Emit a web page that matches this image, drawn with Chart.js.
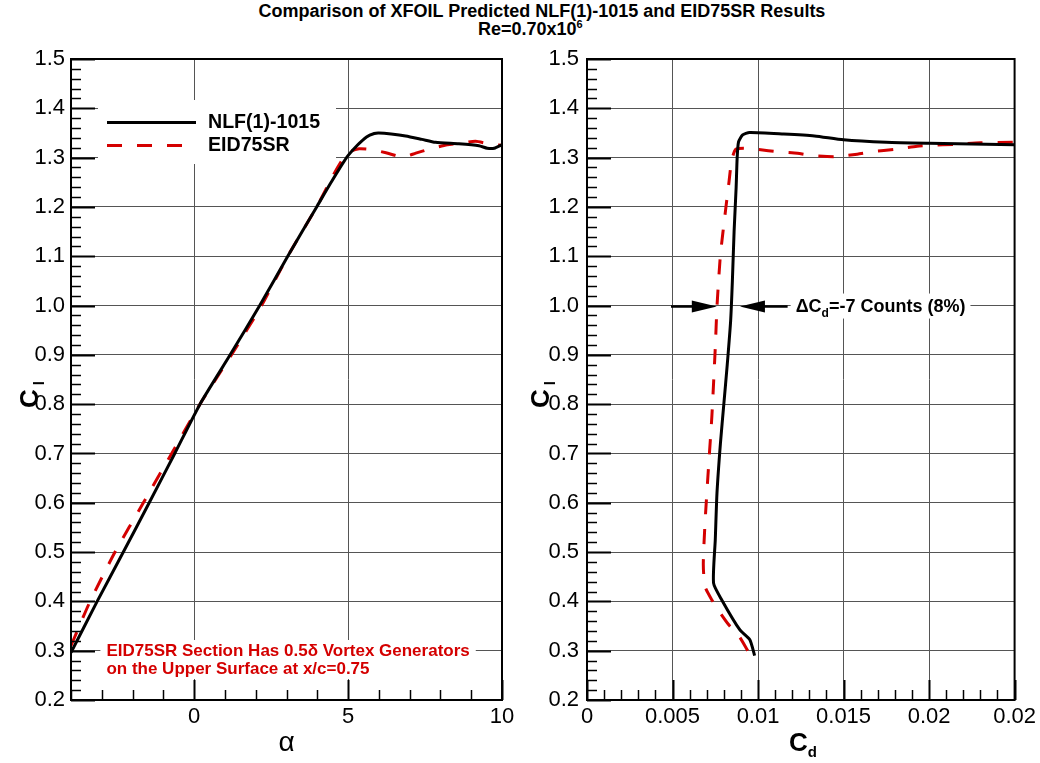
<!DOCTYPE html>
<html>
<head>
<meta charset="utf-8">
<script src="https://cdn.jsdelivr.net/npm/chart.js@4.4.1/dist/chart.umd.min.js"></script>
<style>
html,body{margin:0;padding:0;background:#fff;}
body{width:1040px;height:763px;position:relative;overflow:hidden;font-family:"Liberation Sans",Arial,Helvetica,sans-serif;color:#000;}
canvas{position:absolute;top:0;}
#cLeft{left:0;}
#cRight{left:505px;}
.t1{position:absolute;left:242px;width:600px;top:2px;text-align:center;font-weight:bold;font-size:18px;line-height:18px;white-space:nowrap;}
.t2{position:absolute;left:478px;top:20px;font-weight:bold;font-size:18px;line-height:18px;white-space:nowrap;}
.t2 sup{font-size:11px;vertical-align:7px;line-height:0;}
.ylab{position:absolute;font-weight:bold;font-size:26px;line-height:26px;white-space:nowrap;transform-origin:0 0;transform:rotate(-90deg);}
.ylab sub{font-size:15px;vertical-align:-6px;line-height:0;margin-left:4px;}
.xlab sub{font-size:15px;vertical-align:-6px;line-height:0;}
.xlab{position:absolute;font-weight:bold;font-size:26px;line-height:26px;white-space:nowrap;}
</style>
</head>
<body>
<div class="t1">Comparison of XFOIL Predicted NLF(1)-1015 and EID75SR Results</div>
<div class="t2">Re=0.70x10<sup>6</sup></div>
<canvas id="cLeft" width="540" height="763"></canvas>
<canvas id="cRight" width="535" height="763"></canvas>
<div class="ylab" id="ylabL" style="left:16px;top:408px;">C<sub>l</sub></div>
<div class="ylab" id="ylabR" style="left:527px;top:408px;">C<sub>l</sub></div>
<div class="xlab" id="xlabR" style="left:789px;top:729px;">C<sub>d</sub></div>
<script>
// ---------------- data ----------------
// Left panel: lift coefficient vs angle of attack
const nlfAlpha = [-4.0, -3.15, -2.30, -1.46, -0.63, 0.19, 1.17, 2.13, 3.04, 3.98, 4.45, 4.95, 5.30, 5.60, 5.85, 6.00, 6.40, 6.87, 7.40, 7.84, 8.60, 9.25, 9.52, 9.75, 10.0];
const nlfClA   = [0.296, 0.40, 0.50, 0.60, 0.70, 0.80, 0.90, 1.00, 1.10, 1.20, 1.25, 1.300, 1.325, 1.342, 1.349, 1.350, 1.348, 1.344, 1.337, 1.331, 1.328, 1.324, 1.319, 1.319, 1.326];
const eidAlpha = [-4.0, -3.38, -2.57, -1.65, -0.73, 0.19, 1.21, 2.19, 3.04, 3.98, 4.55, 4.85, 5.10, 5.36, 5.68, 6.23, 6.77, 7.20, 7.63, 8.22, 8.65, 9.14, 9.63, 10.0];
const eidClA   = [0.31, 0.40, 0.50, 0.60, 0.70, 0.80, 0.90, 1.00, 1.10, 1.20, 1.268, 1.299, 1.313, 1.318, 1.317, 1.310, 1.301, 1.309, 1.317, 1.326, 1.329, 1.333, 1.327, 1.325];

// Right panel: lift coefficient vs drag coefficient
const nlfCd  = [0.0098, 0.00952, 0.00894, 0.00788, 0.0074, 0.0075, 0.0076, 0.0078, 0.0080, 0.0082, 0.0084, 0.0085, 0.0086, 0.00872, 0.00878, 0.00886, 0.0091, 0.0095, 0.0115, 0.0133, 0.0150, 0.0175, 0.0200, 0.0250];
const nlfClD = [0.29, 0.322, 0.342, 0.403, 0.437, 0.525, 0.62, 0.72, 0.80, 0.88, 0.97, 1.05, 1.15, 1.24, 1.30, 1.332, 1.346, 1.351, 1.348, 1.344, 1.336, 1.331, 1.329, 1.326];
const eidCd  = [0.0094, 0.0089, 0.0083, 0.0078, 0.0073, 0.0069, 0.0068, 0.0069, 0.0071, 0.0073, 0.0075, 0.0076, 0.0078, 0.0081, 0.0083, 0.00846, 0.0087, 0.0093, 0.0106, 0.0115, 0.0123, 0.0132, 0.0145, 0.0158, 0.0167, 0.0180, 0.0193, 0.0201, 0.0215, 0.0230, 0.0250];
const eidClD = [0.300, 0.329, 0.352, 0.376, 0.403, 0.430, 0.475, 0.559, 0.670, 0.775, 0.914, 0.998, 1.102, 1.193, 1.250, 1.295, 1.317, 1.319, 1.314, 1.311, 1.309, 1.304, 1.302, 1.307, 1.312, 1.317, 1.323, 1.325, 1.327, 1.330, 1.331];

// Series names
const seriesNames = ['NLF(1)-1015', 'EID75SR'];

// Axes and tick labels
const clTickValues = [0.2, 0.3, 0.4, 0.5, 0.6, 0.7, 0.8, 0.9, 1.0, 1.1, 1.2, 1.3, 1.4, 1.5];
const clTickLabels = ['0.2', '0.3', '0.4', '0.5', '0.6', '0.7', '0.8', '0.9', '1.0', '1.1', '1.2', '1.3', '1.4', '1.5'];
const alphaTickValues = [0, 5, 10];
const alphaTickLabels = ['0', '5', '10'];
const cdTickValues = [0, 0.005, 0.01, 0.015, 0.02, 0.025];
const cdTickLabels = ['0', '0.005', '0.01', '0.015', '0.02', '0.02'];

// Annotation texts and positions (data units)
const noteLines = ['EID75SR Section Has 0.5\u03b4 Vortex Generators', 'on the Upper Surface at x/c=0.75'];
const noteAlpha = -2.85;
const deltaLevelCl = 1.0;
const deltaArrowLeft = [0.00491, 0.00759];   // tail, tip
const deltaArrowRight = [0.01173, 0.00894];  // tail, tip
const deltaTextCd = 0.0122;
const deltaText = ['\u0394C', 'd', '=-7 Counts (8%)'];

// ---------------- styling ----------------
const FONT = '"Liberation Sans", Arial, Helvetica, sans-serif';
const BLACK = '#000000';
const RED = '#d40000';
const GRID = '#555555';
const DASH = [15, 15];

function findLabel(values, labels, v) {
  for (let i = 0; i < values.length; i++) if (Math.abs(values[i] - v) < 1e-9) return labels[i];
  return null;
}
function pts(xs, ys) { return xs.map((x, i) => ({ x: x, y: ys[i] })); }

function makeDecor(xValues, yValues) {
  return {
    id: 'decor',
    afterDraw(chart) {
      const { ctx, chartArea: a } = chart;
      const xs = chart.scales.x, ys = chart.scales.y;
      ctx.save();
      ctx.strokeStyle = BLACK;
      xs.ticks.forEach(t => {
        const major = findLabel(xValues, xValues, t.value) !== null;
        const px = Math.round(xs.getPixelForValue(t.value)) + 0.5;
        ctx.lineWidth = major ? 2 : 1.5;
        ctx.beginPath();
        ctx.moveTo(px, a.bottom);
        ctx.lineTo(px, a.bottom - (major ? 20 : 10));
        ctx.stroke();
      });
      ys.ticks.forEach(t => {
        const major = findLabel(yValues, yValues, t.value) !== null;
        const py = Math.round(ys.getPixelForValue(t.value)) + 0.5;
        ctx.lineWidth = major ? 2 : 1.5;
        ctx.beginPath();
        ctx.moveTo(a.left, py);
        ctx.lineTo(a.left + (major ? 24 : 10), py);
        ctx.stroke();
      });
      ctx.lineWidth = 2;
      ctx.strokeRect(a.left, a.top, a.right - a.left, a.bottom - a.top);
      ctx.restore();
    }
  };
}

function scaleX(min, max, step, values, labels, title) {
  return {
    type: 'linear', min: min, max: max, position: 'bottom',
    afterFit(s) { s.height = 63; },
    border: { display: false },
    grid: {
      drawTicks: false,
      lineWidth: 1,
      color: c => (c.tick && findLabel(values, labels, c.tick.value) !== null) ? GRID : 'rgba(0,0,0,0)'
    },
    ticks: {
      stepSize: step, autoSkip: false, maxRotation: 0, minRotation: 0, padding: 4,
      color: BLACK, font: { family: FONT, size: 22 },
      callback: v => { const l = findLabel(values, labels, v); return l === null ? '' : l; }
    },
    title: title
  };
}
function scaleY(yAxisWidth, pad) {
  return {
    type: 'linear', min: 0.2, max: 1.5, position: 'left',
    afterFit(s) { s.width = yAxisWidth; },
    border: { display: false },
    grid: {
      drawTicks: false,
      lineWidth: 1,
      color: c => (c.tick && findLabel(clTickValues, clTickLabels, c.tick.value) !== null) ? GRID : 'rgba(0,0,0,0)'
    },
    ticks: {
      stepSize: 0.02, autoSkip: false, padding: pad,
      color: BLACK, font: { family: FONT, size: 22 },
      callback: v => { const l = findLabel(clTickValues, clTickLabels, v); return l === null ? '' : l; }
    }
  };
}
function series(data, i) {
  return {
    label: seriesNames[i], data: data, showLine: true, pointRadius: 0, pointHoverRadius: 0,
    borderColor: i === 0 ? BLACK : RED, backgroundColor: i === 0 ? BLACK : RED,
    borderWidth: 3, borderDash: i === 0 ? [] : DASH, tension: 0.2, fill: false
  };
}

// Left-panel legend and red note
const leftNotes = {
  id: 'leftNotes',
  beforeDatasetsDraw(chart) {
    const { ctx } = chart;
    const xs = chart.scales.x;
    ctx.save();
    // legend
    ctx.fillStyle = '#fff';
    ctx.fillRect(98, 100, 238, 64);
    const ds = chart.data.datasets;
    ctx.lineWidth = 3;
    ctx.strokeStyle = ds[0].borderColor; ctx.setLineDash([]);
    ctx.beginPath(); ctx.moveTo(107, 122.5); ctx.lineTo(196, 122.5); ctx.stroke();
    ctx.strokeStyle = ds[1].borderColor; ctx.setLineDash(DASH);
    ctx.beginPath(); ctx.moveTo(107, 145.5); ctx.lineTo(196, 145.5); ctx.stroke();
    ctx.setLineDash([]);
    ctx.fillStyle = BLACK;
    ctx.font = 'bold 19.6px ' + FONT;
    ctx.textBaseline = 'middle'; ctx.textAlign = 'left';
    ctx.fillText(ds[0].label, 208, 123);
    ctx.fillText(ds[1].label, 208, 146);
    // note
    ctx.font = 'bold 17px ' + FONT;
    const w = Math.max(ctx.measureText(noteLines[0]).width, ctx.measureText(noteLines[1]).width);
    const x0 = xs.getPixelForValue(noteAlpha);
    ctx.fillStyle = '#fff';
    ctx.fillRect(x0 - 6, 640, w + 12, 39);
    ctx.fillStyle = RED;
    ctx.fillText(noteLines[0], x0, 651);
    ctx.fillText(noteLines[1], x0, 669);
    ctx.restore();
  }
};

// Right-panel delta-Cd annotation
function arrow(ctx, xTail, xTip, y) {
  const dir = xTip > xTail ? 1 : -1;
  const headLen = 25, half = 6;
  ctx.lineWidth = 2.5;
  ctx.beginPath(); ctx.moveTo(xTail, y); ctx.lineTo(xTip - dir * (headLen - 4), y); ctx.stroke();
  ctx.beginPath();
  ctx.moveTo(xTip, y);
  ctx.lineTo(xTip - dir * headLen, y - half);
  ctx.lineTo(xTip - dir * headLen, y + half);
  ctx.closePath(); ctx.fill();
}
const rightNotes = {
  id: 'rightNotes',
  beforeDatasetsDraw(chart) {
    const { ctx } = chart;
    const xs = chart.scales.x, ys = chart.scales.y;
    const y = ys.getPixelForValue(deltaLevelCl);
    const x = xs.getPixelForValue(deltaTextCd);
    ctx.save();
    ctx.font = 'bold 18px ' + FONT;
    const w1 = ctx.measureText(deltaText[0]).width;
    ctx.font = 'bold 12px ' + FONT;
    const w2 = ctx.measureText(deltaText[1]).width;
    ctx.font = 'bold 18px ' + FONT;
    const w3 = ctx.measureText(deltaText[2]).width;
    ctx.fillStyle = '#fff';
    ctx.fillRect(x - 5, y - 12, w1 + w2 + w3 + 10, 25);
    ctx.fillStyle = BLACK;
    ctx.textBaseline = 'alphabetic'; ctx.textAlign = 'left';
    ctx.fillText(deltaText[0], x, y + 6.5);
    ctx.font = 'bold 12px ' + FONT;
    ctx.fillText(deltaText[1], x + w1, y + 11);
    ctx.font = 'bold 18px ' + FONT;
    ctx.fillText(deltaText[2], x + w1 + w2, y + 6.5);
    ctx.restore();
  },
  afterDatasetsDraw(chart) {
    const { ctx } = chart;
    const xs = chart.scales.x, ys = chart.scales.y;
    const y = Math.round(ys.getPixelForValue(deltaLevelCl)) + 0.5;
    ctx.save();
    ctx.strokeStyle = BLACK; ctx.fillStyle = BLACK;
    arrow(ctx, xs.getPixelForValue(deltaArrowLeft[0]), xs.getPixelForValue(deltaArrowLeft[1]), y);
    arrow(ctx, xs.getPixelForValue(deltaArrowRight[0]), xs.getPixelForValue(deltaArrowRight[1]), y);
    ctx.restore();
  }
};

Chart.defaults.font.family = FONT;

new Chart(document.getElementById('cLeft'), {
  type: 'scatter',
  data: { datasets: [series(pts(nlfAlpha, nlfClA), 0), series(pts(eidAlpha, eidClA), 1)] },
  options: {
    responsive: false, devicePixelRatio: 1, animation: false,
    layout: { padding: { top: 59, right: 38, bottom: 0, left: 0 } },
    plugins: { legend: { display: false }, tooltip: { enabled: false }, title: { display: false } },
    scales: {
      x: scaleX(-4, 10, 1, alphaTickValues, alphaTickLabels,
        { display: true, text: '\u03b1', color: BLACK, font: { family: FONT, size: 28 }, padding: { top: 0, bottom: 3 } }),
      y: scaleY(71, 6)
    }
  },
  plugins: [leftNotes, makeDecor(alphaTickValues, clTickValues)]
});

new Chart(document.getElementById('cRight'), {
  type: 'scatter',
  data: { datasets: [series(pts(nlfCd, nlfClD), 0), series(pts(eidCd, eidClD), 1)] },
  options: {
    responsive: false, devicePixelRatio: 1, animation: false,
    layout: { padding: { top: 59, right: 20.5, bottom: 0, left: 0 } },
    plugins: { legend: { display: false }, tooltip: { enabled: false }, title: { display: false } },
    scales: {
      x: scaleX(0, 0.025, 0.001, cdTickValues, cdTickLabels, { display: false }),
      y: scaleY(82, 8)
    }
  },
  plugins: [rightNotes, makeDecor(cdTickValues, clTickValues)]
});
</script>
</body>
</html>
